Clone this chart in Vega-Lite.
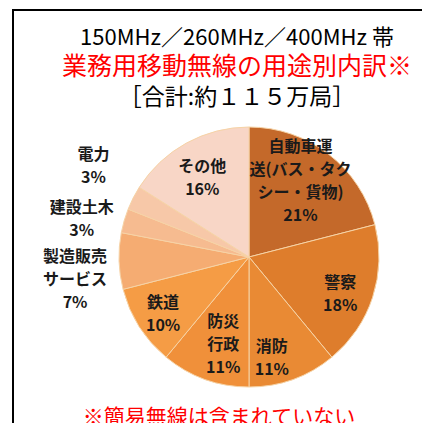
{
  "$schema": "https://vega.github.io/schema/vega-lite/v6.json",
  "padding": {"left": 12, "top": 9, "right": 0, "bottom": 0},
  "background": "white",
  "config": {
    "view": {"stroke": "#000000", "strokeWidth": 2},
    "style": {"cell": {"stroke": "#000000", "strokeWidth": 2}},
    "title": {"font": "Noto Sans CJK JP", "subtitleFont": "Noto Sans CJK JP"}
  },
  "title": {
    "text": "150MHz／260MHz／400MHz 帯",
    "subtitle": "業務用移動無線の用途別内訳※",
    "color": "#000000",
    "subtitleColor": "#ff0000",
    "fontSize": 22,
    "subtitleFontSize": 25,
    "fontWeight": "normal",
    "subtitleFontWeight": "normal",
    "anchor": "middle",
    "offset": -72,
    "dx": -12,
    "subtitlePadding": 5
  },
  "vconcat": [
    {
      "title": {
        "text": "［合計:約１１５万局］",
        "fontSize": 23,
        "fontWeight": "normal",
        "color": "#000000",
        "anchor": "middle",
        "offset": -101,
        "dx": -12
      },
      "vconcat": [
        {
          "width": 472,
          "height": 494,
          "view": {"stroke": "#000000", "strokeWidth": 2},
          "title": {
            "text": "※簡易無線は含まれていない",
            "orient": "bottom",
            "color": "#ff0000",
            "fontSize": 21,
            "fontWeight": "normal",
            "anchor": "middle",
            "offset": -97,
            "dx": -30
          },
          "data": {
            "values": [
              {"category": "自動車運送(バス・タクシー・貨物)", "label": "自動車運\n送(バス・タク\nシー・貨物)\n21%", "pct": 21, "order": 1},
              {"category": "警察", "label": "警察\n18%", "pct": 18, "order": 2},
              {"category": "消防", "label": "消防\n11%", "pct": 11, "order": 3},
              {"category": "防災行政", "label": "防災\n行政\n11%", "pct": 11, "order": 4},
              {"category": "鉄道", "label": "鉄道\n10%", "pct": 10, "order": 5},
              {"category": "製造販売サービス", "label": "製造販売\nサービス\n7%", "pct": 7, "order": 6},
              {"category": "建設土木", "label": "建設土木\n3%", "pct": 3, "order": 7},
              {"category": "電力", "label": "電力\n3%", "pct": 3, "order": 8},
              {"category": "その他", "label": "その他\n16%", "pct": 16, "order": 9}
            ]
          },
          "encoding": {
            "theta": {"field": "pct", "type": "quantitative", "stack": true},
            "order": {"field": "order", "type": "quantitative", "sort": "ascending"}
          },
          "layer": [
            {
              "mark": {"type": "arc", "outerRadius": 130, "stroke": "#f6d3a6", "strokeWidth": 1},
              "encoding": {
                "color": {
                  "field": "order",
                  "type": "ordinal",
                  "scale": {"range": ["#c4692a", "#de7d2c", "#e98a34", "#f0903a", "#f59c45", "#f5ac72", "#f6bb90", "#f7c8a8", "#f8d6c6"]},
                  "legend": null
                }
              }
            },
            {
              "mark": {"type": "text", "radius": 97, "dx": -8, "dy": -33, "font": "Noto Sans CJK JP", "fontWeight": "bold", "fontSize": 16, "lineHeight": 23, "lineBreak": "\n", "fill": "#1a1a1a"},
              "encoding": {"text": {"condition": {"test": "datum.order == 1", "field": "label", "type": "nominal"}, "value": ""}}
            },
            {
              "mark": {"type": "text", "radius": 97, "dx": -1, "dy": -4, "font": "Noto Sans CJK JP", "fontWeight": "bold", "fontSize": 16, "lineHeight": 23, "lineBreak": "\n", "fill": "#1a1a1a"},
              "encoding": {"text": {"condition": {"test": "datum.order == 2", "field": "label", "type": "nominal"}, "value": ""}}
            },
            {
              "mark": {"type": "text", "radius": 97, "dx": -10, "dy": -1, "font": "Noto Sans CJK JP", "fontWeight": "bold", "fontSize": 16, "lineHeight": 23, "lineBreak": "\n", "fill": "#1a1a1a"},
              "encoding": {"text": {"condition": {"test": "datum.order == 3", "field": "label", "type": "nominal"}, "value": ""}}
            },
            {
              "mark": {"type": "text", "radius": 97, "dx": 7, "dy": -26, "font": "Noto Sans CJK JP", "fontWeight": "bold", "fontSize": 16, "lineHeight": 23, "lineBreak": "\n", "fill": "#1a1a1a"},
              "encoding": {"text": {"condition": {"test": "datum.order == 4", "field": "label", "type": "nominal"}, "value": ""}}
            },
            {
              "mark": {"type": "text", "radius": 97, "dx": -4, "dy": -6, "font": "Noto Sans CJK JP", "fontWeight": "bold", "fontSize": 16, "lineHeight": 23, "lineBreak": "\n", "fill": "#1a1a1a"},
              "encoding": {"text": {"condition": {"test": "datum.order == 5", "field": "label", "type": "nominal"}, "value": ""}}
            },
            {
              "mark": {"type": "text", "radius": 175, "dx": 1, "dy": -5, "font": "Noto Sans CJK JP", "fontWeight": "bold", "fontSize": 16, "lineHeight": 23, "lineBreak": "\n", "fill": "#1a1a1a"},
              "encoding": {"text": {"condition": {"test": "datum.order == 6", "field": "label", "type": "nominal"}, "value": ""}}
            },
            {
              "mark": {"type": "text", "radius": 171, "dx": -3, "dy": -1, "font": "Noto Sans CJK JP", "fontWeight": "bold", "fontSize": 16, "lineHeight": 23, "lineBreak": "\n", "fill": "#1a1a1a"},
              "encoding": {"text": {"condition": {"test": "datum.order == 7", "field": "label", "type": "nominal"}, "value": ""}}
            },
            {
              "mark": {"type": "text", "radius": 179, "dx": 4, "dy": -21, "font": "Noto Sans CJK JP", "fontWeight": "bold", "fontSize": 16, "lineHeight": 23, "lineBreak": "\n", "fill": "#1a1a1a"},
              "encoding": {"text": {"condition": {"test": "datum.order == 8", "field": "label", "type": "nominal"}, "value": ""}}
            },
            {
              "mark": {"type": "text", "radius": 97, "dx": 0, "dy": -5, "font": "Noto Sans CJK JP", "fontWeight": "bold", "fontSize": 16, "lineHeight": 23, "lineBreak": "\n", "fill": "#1a1a1a"},
              "encoding": {"text": {"condition": {"test": "datum.order == 9", "field": "label", "type": "nominal"}, "value": ""}}
            }
          ]
        }
      ]
    }
  ]
}
